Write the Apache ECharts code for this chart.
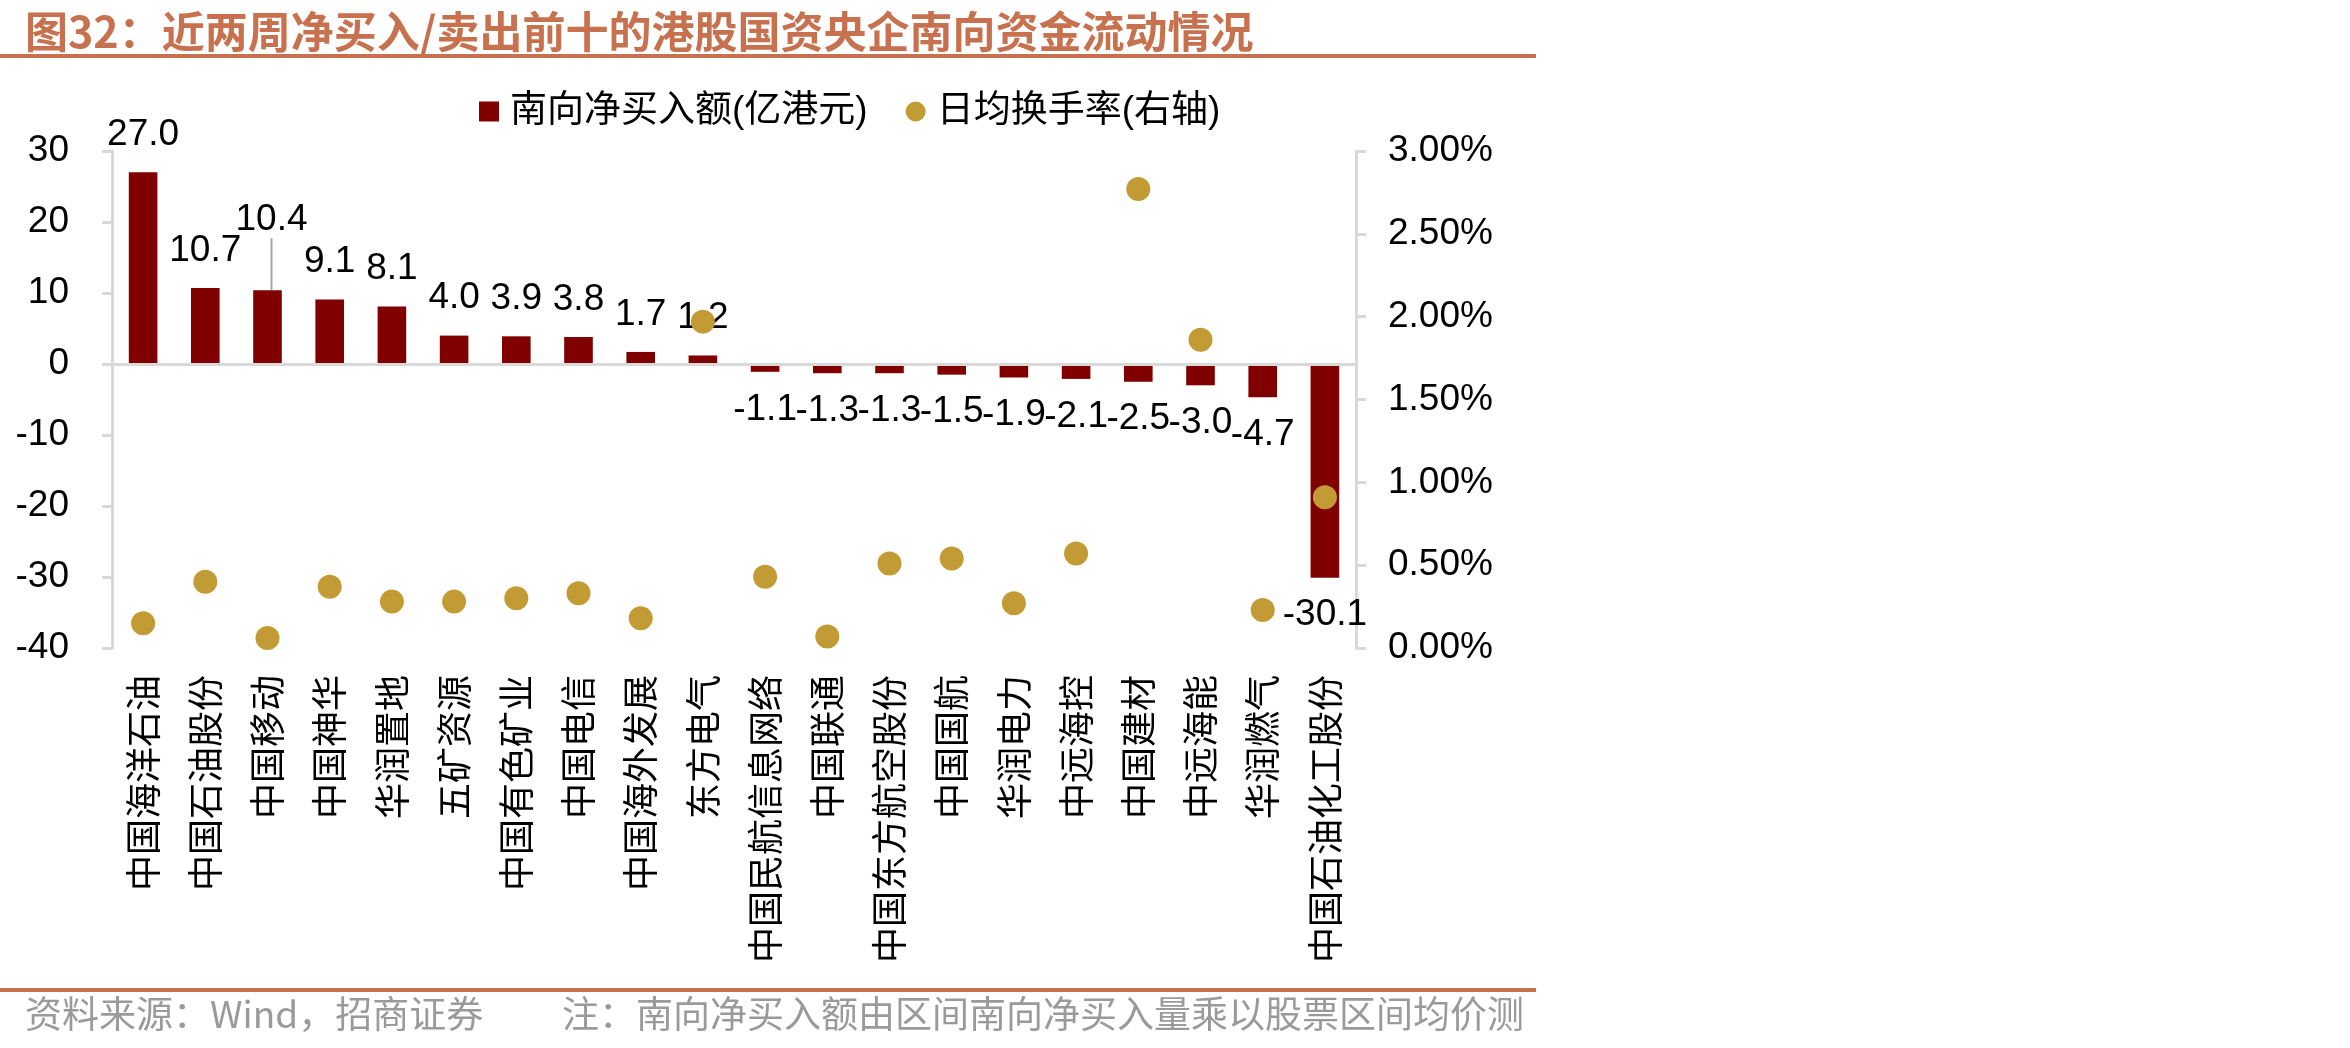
<!DOCTYPE html>
<html>
<head>
<meta charset="utf-8">
<title>港股国资央企南向资金流动情况</title>
<script src="https://cdn.jsdelivr.net/npm/echarts@6/dist/echarts.min.js"></script>
<style>
    html, body { margin: 0; padding: 0; background: #fff; }
    #main { width: 2350px; height: 1048px; }
</style>
</head>
<body>
<div id="main"></div>
<script>
    // 数据
    var stocks = ['中国海洋石油', '中国石油股份', '中国移动', '中国神华', '华润置地', '五矿资源', '中国有色矿业', '中国电信',
        '中国海外发展', '东方电气', '中国民航信息网络', '中国联通', '中国东方航空股份', '中国国航', '华润电力', '中远海控',
        '中国建材', '中远海能', '华润燃气', '中国石油化工股份'];
    var netBuy = [27.0, 10.7, 10.4, 9.1, 8.1, 4.0, 3.9, 3.8, 1.7, 1.2, -1.1, -1.3, -1.3, -1.5, -1.9, -2.1, -2.5, -3.0, -4.7, -30.1];
    var turnover = [0.15, 0.40, 0.06, 0.37, 0.28, 0.28, 0.30, 0.33, 0.18, 1.97, 0.43, 0.07, 0.51, 0.54, 0.27, 0.57, 2.77, 1.86, 0.23, 0.91];
    var leftTicks = { min: -40, max: 30, interval: 10 };
    var rightTicks = { min: 0, max: 3, interval: 0.5 };

    var titleColor = '#C8714E';
    var latin = "'Liberation Sans', 'Noto Sans CJK SC', sans-serif";
    var cjk = "'Noto Sans CJK SC', sans-serif";

    var chartDom = document.getElementById('main');
    var myChart = echarts.init(chartDom);

    // 10.4 的标签在原图中被挪高，用引导线连回柱子
    var movedLabel = 2;

    var barData = netBuy.map(function (v, i) {
        return {
            value: v,
            label: { position: v < 0 ? 'bottom' : 'top' },
            labelLine: { show: i === movedLabel }
        };
    });

    var option = {
        animation: false,
        textStyle: { fontFamily: latin },
        title: {
            text: '图32：近两周净买入/卖出前十的港股国资央企南向资金流动情况',
            left: 20,
            top: 5,
            textStyle: { fontFamily: cjk, fontSize: 43, fontWeight: 'bold', color: titleColor }
        },
        graphic: [
            { type: 'rect', shape: { x: 0, y: 54, width: 1536, height: 4 }, style: { fill: titleColor } },
            { type: 'rect', shape: { x: 0, y: 988, width: 1536, height: 4 }, style: { fill: titleColor } },
            {
                type: 'text', left: 25, top: 995,
                style: { text: '资料来源：Wind，招商证券', font: "37px 'Noto Sans CJK SC'", fill: '#9a9a9a' }
            },
            {
                type: 'text', left: 562, top: 995,
                style: { text: '注：南向净买入额由区间南向净买入量乘以股票区间均价测', font: "37px 'Noto Sans CJK SC'", fill: '#9a9a9a' }
            }
        ],
        legend: {
            left: 474,
            top: 88,
            itemWidth: 20,
            itemHeight: 20,
            itemGap: 38,
            textStyle: { fontSize: 37, color: '#000', padding: [0, 0, 0, 6] },
            data: [
                { name: '南向净买入额(亿港元)', icon: 'rect' },
                { name: '日均换手率(右轴)', icon: 'circle' }
            ]
        },
        grid: { left: 112, right: 994, top: 151, bottom: 400 },
        xAxis: {
            type: 'category',
            data: stocks,
            position: 'bottom',
            axisLine: { show: false, onZero: false },
            axisTick: { show: false },
            axisLabel: {
                rotate: 90,
                interval: 0,
                margin: 27,
                fontFamily: cjk,
                fontSize: 36,
                color: '#000'
            }
        },
        yAxis: [
            {
                type: 'value',
                min: leftTicks.min,
                max: leftTicks.max,
                interval: leftTicks.interval,
                splitLine: { show: false },
                axisLine: { show: true, lineStyle: { color: '#d9d9d9', width: 3 } },
                axisTick: { show: true, length: 10, lineStyle: { color: '#d9d9d9', width: 3 } },
                axisLabel: { fontSize: 37, color: '#000', margin: 43 }
            },
            {
                type: 'value',
                min: rightTicks.min,
                max: rightTicks.max,
                interval: rightTicks.interval,
                splitLine: { show: false },
                axisLine: { show: true, lineStyle: { color: '#d9d9d9', width: 3 } },
                axisTick: { show: true, length: 10, lineStyle: { color: '#d9d9d9', width: 3 } },
                axisLabel: {
                    fontSize: 37, color: '#000', margin: 32,
                    formatter: function (v) { return v.toFixed(2) + '%'; }
                }
            }
        ],
        series: [
            {
                name: '南向净买入额(亿港元)',
                type: 'bar',
                data: barData,
                barWidth: '46%',
                itemStyle: { color: '#800000' },
                label: {
                    show: true,
                    fontSize: 37,
                    color: '#000',
                    distance: 19,
                    formatter: function (p) { return p.value.toFixed(1); }
                },
                labelLayout: function (p) {
                    if (p.dataIndex === movedLabel) {
                        return { dx: 4, dy: -33 };
                    }
                },
                labelLine: { show: false, lineStyle: { color: '#a6a6a6', width: 2 } },
                markLine: {
                    silent: true,
                    symbol: 'none',
                    label: { show: false },
                    lineStyle: { color: '#d9d9d9', width: 3, type: 'solid' },
                    data: [{ yAxis: 0 }]
                }
            },
            {
                name: '日均换手率(右轴)',
                type: 'scatter',
                yAxisIndex: 1,
                data: turnover,
                symbolSize: 24,
                itemStyle: { color: '#C39B34', opacity: 1 }
            }
        ]
    };

    myChart.setOption(option);
</script>
</body>
</html>
